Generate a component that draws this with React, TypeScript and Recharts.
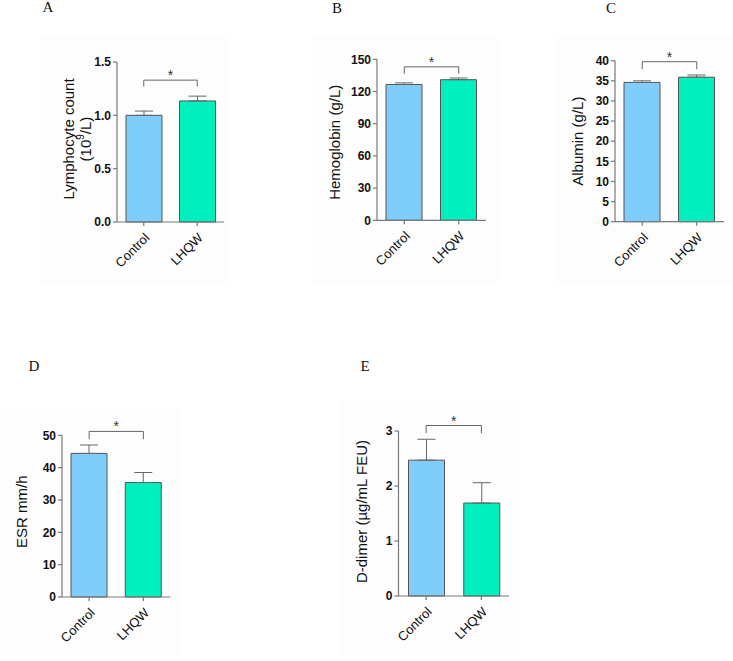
import React from 'react';
import { BarChart, Bar, XAxis, YAxis, ErrorBar, ReferenceLine, Cell, Label } from 'recharts';

// groups and colours
const groups = ['Control', 'LHQW'];
const barColors = ['#7fcdfb', '#00efbf'];

// A - lymphocyte count (10^9/L)
const lymphocyteMean = [1.0, 1.135];
const lymphocyteSem = [0.04, 0.045];
const lymphocyteTicks = [0, 0.5, 1.0, 1.5];
const lymphocyteBracket = [1.33, 1.27];

// B - hemoglobin (g/L)
const hemoglobinMean = [126.5, 131];
const hemoglobinSem = [1.5, 1.6];
const hemoglobinTicks = [0, 30, 60, 90, 120, 150];
const hemoglobinBracket = [143, 136.5];

// C - albumin (g/L)
const albuminMean = [34.6, 35.9];
const albuminSem = [0.4, 0.55];
const albuminTicks = [0, 5, 10, 15, 20, 25, 30, 35, 40];
const albuminBracket = [39.75, 37.9];

// D - ESR mm/h
const esrMean = [44.4, 35.4];
const esrSem = [2.6, 3.1];
const esrTicks = [0, 10, 20, 30, 40, 50];
const esrBracket = [51.2, 48.8];

// E - D-dimer (µg/mL FEU)
const ddimerMean = [2.47, 1.69];
const ddimerSem = [0.38, 0.37];
const ddimerTicks = [0, 1, 2, 3];
const ddimerBracket = [3.1, 2.96];

const SANS = "'Liberation Sans', Arial, Helvetica, sans-serif";
const SERIF = "'Liberation Serif', 'Times New Roman', serif";
const AXIS = '#7a7a7a';
const W_Y = 40;
const H_X = 50;

type Rect = { left: number; right: number; top: number; bottom: number };

interface PanelCfg {
  letter: string;
  letterPos: [number, number];
  box: { x: number; y: number; w: number; h: number };
  plot: Rect;
  mean: number[];
  sem: number[];
  ticks: number[];
  bracket: number[];
  decimals: number;
  title: string[];
  titleGap: number[];
  titleDy: number;
}

const panels: PanelCfg[] = [
  {
    letter: 'A', letterPos: [48, 0],
    box: { x: 40, y: 35, w: 190, h: 250 },
    plot: { left: 117, right: 224, top: 62, bottom: 222 },
    mean: lymphocyteMean, sem: lymphocyteSem, ticks: lymphocyteTicks, bracket: lymphocyteBracket,
    decimals: 1, title: ['Lymphocyte count', '(10^9/L)'], titleGap: [49, 32], titleDy: -3,
  },
  {
    letter: 'B', letterPos: [337, 1],
    box: { x: 313, y: 35, w: 185, h: 250 },
    plot: { left: 377, right: 486, top: 59.3, bottom: 220.3 },
    mean: hemoglobinMean, sem: hemoglobinSem, ticks: hemoglobinTicks, bracket: hemoglobinBracket,
    decimals: 0, title: ['Hemoglobin (g/L)'], titleGap: [42.5], titleDy: 2.5,
  },
  {
    letter: 'C', letterPos: [611, 1],
    box: { x: 557, y: 35, w: 176, h: 250 },
    plot: { left: 615, right: 724, top: 60.7, bottom: 221.7 },
    mean: albuminMean, sem: albuminSem, ticks: albuminTicks, bracket: albuminBracket,
    decimals: 0, title: ['Albumin (g/L)'], titleGap: [37.5], titleDy: 0,
  },
  {
    letter: 'D', letterPos: [34, 359],
    box: { x: 0, y: 407, w: 178, h: 250 },
    plot: { left: 62, right: 170.5, top: 435.3, bottom: 597 },
    mean: esrMean, sem: esrSem, ticks: esrTicks, bracket: esrBracket,
    decimals: 0, title: ['ESR mm/h'], titleGap: [40], titleDy: -4.5,
  },
  {
    letter: 'E', letterPos: [365, 359],
    box: { x: 342, y: 400, w: 178, h: 257 },
    plot: { left: 398.5, right: 509, top: 431, bottom: 596 },
    mean: ddimerMean, sem: ddimerSem, ticks: ddimerTicks, bracket: ddimerBracket,
    decimals: 0, title: ['D-dimer (µg/mL FEU)'], titleGap: [37], titleDy: -2,
  },
];

function AxisTitle({ cfg }: { cfg: PanelCfg }) {
  const { box, plot } = cfg;
  const cy = (plot.top + plot.bottom) / 2 - box.y + cfg.titleDy;
  return (
    <g>
      {cfg.title.map((line, i) => {
        const x = plot.left - box.x - cfg.titleGap[i];
        const parts = line.split('^');
        return (
          <text
            key={i}
            x={x}
            y={cy}
            transform={`rotate(-90, ${x}, ${cy})`}
            textAnchor="middle"
            dominantBaseline="central"
            fontSize={15}
            fontFamily={SANS}
            fill="#111"
          >
            {parts.length === 1 ? line : (
              <>
                <tspan>{parts[0]}</tspan>
                <tspan dy={-5} fontSize={10}>{parts[1].slice(0, 1)}</tspan>
                <tspan dy={5}>{parts[1].slice(1)}</tspan>
              </>
            )}
          </text>
        );
      })}
    </g>
  );
}

function Panel({ cfg }: { cfg: PanelCfg }) {
  const { box, plot } = cfg;
  const data = groups.map((g, i) => ({ group: g, value: cfg.mean[i], err: [0, cfg.sem[i]] }));
  const margin = {
    top: plot.top - box.y,
    right: box.x + box.w - plot.right,
    left: plot.left - box.x - W_Y,
    bottom: box.y + box.h - plot.bottom - H_X,
  };
  const [bTop, bLow] = cfg.bracket;
  const bracketStroke = { stroke: '#666', strokeWidth: 1 };

  return (
    <div style={{ position: 'absolute', left: box.x, top: box.y, width: box.w, height: box.h, background: '#fdfdfd' }}>
      <BarChart width={box.w} height={box.h} data={data} margin={margin} barSize={36}>
        <XAxis
          dataKey="group"
          height={H_X}
          interval={0}
          tickSize={4}
          tickMargin={6}
          axisLine={{ stroke: AXIS, strokeWidth: 1.2 }}
          tickLine={{ stroke: AXIS, strokeWidth: 1.2 }}
          tick={{ fontSize: 13, fill: '#111', fontFamily: SANS }}
          angle={-45}
          textAnchor="end"
        />
        <YAxis
          type="number"
          domain={[0, cfg.ticks[cfg.ticks.length - 1]]}
          ticks={cfg.ticks}
          width={W_Y}
          interval={0}
          tickSize={4}
          tickMargin={2}
          axisLine={{ stroke: AXIS, strokeWidth: 1.2 }}
          tickLine={{ stroke: AXIS, strokeWidth: 1.2 }}
          tick={{ fontSize: 12, fontWeight: 'bold', fill: '#111', fontFamily: SANS }}
          tickFormatter={(v: number) => v.toFixed(cfg.decimals)}
        >
          <Label content={() => <AxisTitle cfg={cfg} />} />
        </YAxis>
        <Bar dataKey="value" stroke="#555" strokeWidth={1} isAnimationActive={false}>
          {data.map((d, i) => (
            <Cell key={d.group} fill={barColors[i]} />
          ))}
          <ErrorBar dataKey="err" width={9} stroke="#666" strokeWidth={1} direction="y" isAnimationActive={false} />
        </Bar>
        <ReferenceLine
          segment={[{ x: groups[0], y: bTop }, { x: groups[1], y: bTop }]}
          ifOverflow="visible"
          {...bracketStroke}
          label={{ value: '*', position: 'top', offset: 0, fontSize: 14, fill: '#333', fontFamily: SANS }}
        />
        <ReferenceLine segment={[{ x: groups[0], y: bTop }, { x: groups[0], y: bLow }]} ifOverflow="visible" {...bracketStroke} />
        <ReferenceLine segment={[{ x: groups[1], y: bTop }, { x: groups[1], y: bLow }]} ifOverflow="visible" {...bracketStroke} />
      </BarChart>
    </div>
  );
}

export default function App() {
  return (
    <div style={{ position: 'absolute', left: 0, top: 0, width: 733, height: 661, background: '#fff', overflow: 'hidden' }}>
      {panels.map((p) => (
        <Panel key={p.letter} cfg={p} />
      ))}
      {panels.map((p) => (
        <div
          key={'l' + p.letter}
          style={{
            position: 'absolute',
            left: p.letterPos[0],
            top: p.letterPos[1],
            transform: 'translateX(-50%)',
            fontFamily: SERIF,
            fontSize: 15,
            lineHeight: '15px',
            color: '#111',
          }}
        >
          {p.letter}
        </div>
      ))}
    </div>
  );
}
